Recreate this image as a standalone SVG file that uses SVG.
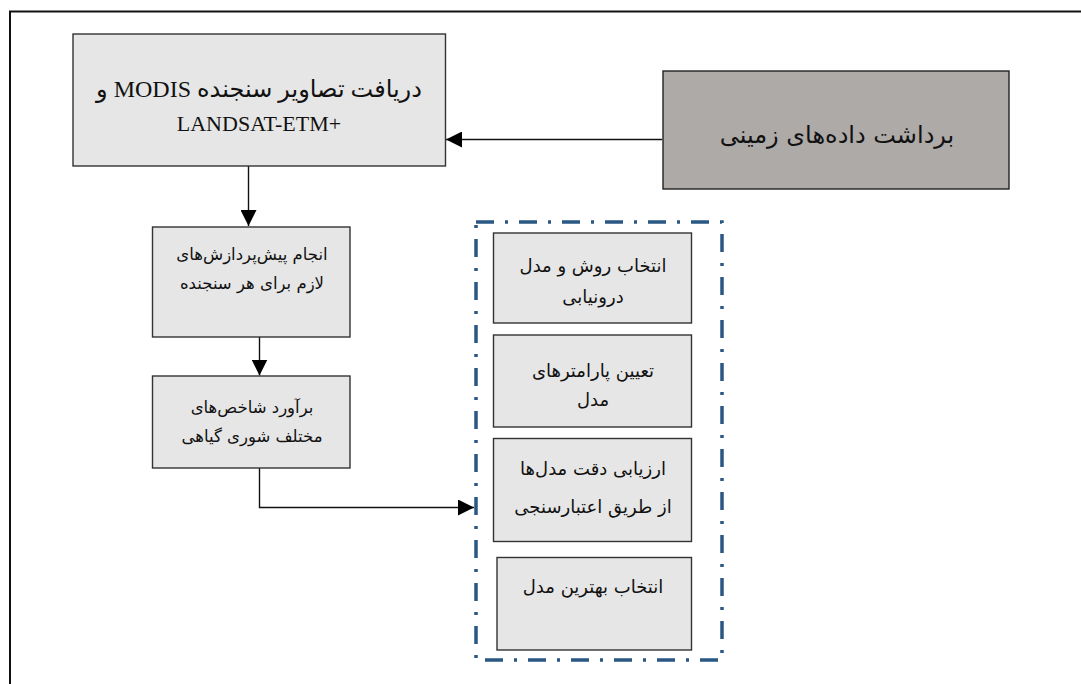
<svg xmlns="http://www.w3.org/2000/svg" width="1081" height="684" viewBox="0 0 1081 684">
<style>
.box{fill:#e6e6e6;stroke:#333;stroke-width:1.4}
.dark{fill:#aeaaa8;stroke:#222;stroke-width:1.4}
.fa{font-family:"DejaVu Sans","Noto Sans",sans-serif;font-size:16.5px;fill:#111;text-anchor:middle;direction:rtl}
.fb{font-family:"DejaVu Sans","Noto Sans",sans-serif;font-size:18px;fill:#111;text-anchor:middle;direction:rtl}
.faL{font-family:"DejaVu Sans","Noto Sans",sans-serif;font-size:24px;fill:#111;text-anchor:middle;direction:rtl}
.ser{font-family:"Liberation Serif","DejaVu Sans",serif;font-size:22px;fill:#111;text-anchor:middle}
.ln{fill:none;stroke:#111;stroke-width:1.4}
.grp{fill:none;stroke:#2a5783;stroke-width:3.5;stroke-dasharray:18 11 3 11}
</style>
<defs>
<marker id="ah" viewBox="0 0 10 10" refX="10" refY="5" markerWidth="16" markerHeight="16" markerUnits="userSpaceOnUse" orient="auto">
<path d="M0,0 L10,5 L0,10 Z" fill="#000"/>
</marker>
</defs>
<path d="M10,700 V11.5 H1090" fill="none" stroke="#111" stroke-width="2"/>
<g id="connectors">
<path class="ln" d="M662,139.5 H446" marker-end="url(#ah)"/>
<path class="ln" d="M248.5,166 V226" marker-end="url(#ah)"/>
<path class="ln" d="M259.5,337 V375.5" marker-end="url(#ah)"/>
<path class="ln" d="M259.5,468 V507.5 H474" marker-end="url(#ah)"/>
</g>
<g id="n1">
<rect class="box" x="73" y="34" width="372.5" height="132"/>
<text class="ser" x="259" y="97" direction="rtl" style="font-size:24px">&#x200F;دریافت تصاویر سنجنده MODIS و&#x200F;</text>
<text class="ser" x="259" y="131" direction="ltr">LANDSAT-ETM+</text>
</g>
<g id="n2">
<rect class="dark" x="663" y="71" width="346" height="118"/>
<text class="faL" x="837" y="143">برداشت داده‌های زمینی</text>
</g>
<g id="n3">
<rect class="box" x="152.5" y="227" width="197.5" height="110"/>
<text class="fa" x="252" y="260">انجام پیش‌پردازش‌های</text>
<text class="fa" x="252" y="289">لازم برای هر سنجنده</text>
</g>
<g id="n4">
<rect class="box" x="152.5" y="376" width="197.5" height="92"/>
<text class="fa" x="252" y="413">برآورد شاخص‌های</text>
<text class="fa" x="252" y="442">مختلف شوری گیاهی</text>
</g>
<g id="group">
<rect class="grp" x="476" y="222" width="246" height="438"/>
</g>
<g id="n5">
<rect class="box" x="493.5" y="233" width="198" height="90"/>
<text class="fb" x="593" y="272">انتخاب روش و مدل</text>
<text class="fb" x="593" y="303">درونیابی</text>
</g>
<g id="n6">
<rect class="box" x="493.5" y="335" width="198" height="92"/>
<text class="fb" x="593" y="377">تعیین پارامترهای</text>
<text class="fb" x="593" y="406">مدل</text>
</g>
<g id="n7">
<rect class="box" x="493.5" y="438.5" width="198" height="103"/>
<text class="fb" x="593" y="475">ارزیابی دقت مدل‌ها</text>
<text class="fb" x="593" y="513">از طریق اعتبارسنجی</text>
</g>
<g id="n8">
<rect class="box" x="497" y="557.5" width="194.5" height="92.5"/>
<text class="fb" x="593" y="593">انتخاب بهترین مدل</text>
</g>
</svg>
